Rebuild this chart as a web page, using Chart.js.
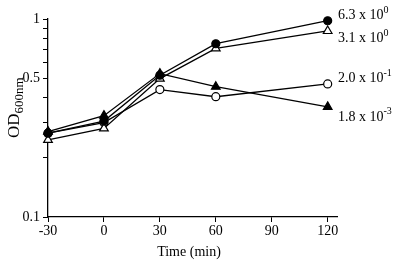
<!DOCTYPE html>
<html>
<head>
<meta charset="utf-8">
<script src="https://cdn.jsdelivr.net/npm/chart.js@4/dist/chart.umd.min.js"></script>
<style>
  html, body { margin: 0; padding: 0; background: #fff; }
  #wrap { width: 400px; height: 268px; }
</style>
</head>
<body>
<div id="wrap"><canvas id="odChart" width="400" height="268"></canvas></div>
<script>
// time points (min)
const times = [-30, 0, 30, 60, 120];

// OD600 values
const filledCircle = [0.265, 0.305, 0.52, 0.75, 0.98];
const openTriangle = [0.245, 0.28, 0.50, 0.71, 0.87];
const openCircle = [0.265, 0.30, 0.44, 0.405, 0.47];
const filledTriangle = [0.27, 0.325, 0.53, 0.455, 0.36];

// end labels: mantissa x 10^exp
const endLabels = [
    { base: '6.3 x 10', exp: '0' },
    { base: '3.1 x 10', exp: '0' },
    { base: '2.0 x 10', exp: '-1' },
    { base: '1.8 x 10', exp: '-3' }
];
const labelShift = [-5, 7, -6, 10];

const yTicks = [0.1, 0.2, 0.3, 0.4, 0.5, 0.6, 0.7, 0.8, 0.9, 1];
const yLabelTicks = [0.1, 0.5, 1];
const xTicks = [-30, 0, 30, 60, 90, 120];

const serif = '"Liberation Serif", "Times New Roman", serif';

function pts(values) {
    return times.map((t, i) => ({ x: t, y: values[i] }));
}

function serie(values, style, fill, radius) {
    return {
        data: pts(values),
        borderColor: '#000',
        borderWidth: 1.3,
        backgroundColor: fill,
        pointStyle: style,
        pointRadius: radius,
        pointBorderColor: '#000',
        pointBorderWidth: 1.2,
        pointBackgroundColor: fill,
        tension: 0,
        clip: false
    };
}

// draws y axis title with subscript and the right-hand labels
const textPlugin = {
    id: 'textPlugin',
    afterDraw(chart) {
        const ctx = chart.ctx;
        ctx.save();
        ctx.fillStyle = '#000';

        // y title
        ctx.translate(19, 138);
        ctx.rotate(-Math.PI / 2);
        ctx.textAlign = 'left';
        ctx.textBaseline = 'alphabetic';
        ctx.font = '17px ' + serif;
        ctx.fillText('OD', 0, 0);
        const w = ctx.measureText('OD').width;
        ctx.font = '13px ' + serif;
        ctx.fillText('600nm', w, 4);
        ctx.setTransform(1, 0, 0, 1, 0, 0);

        // end labels
        ctx.textBaseline = 'middle';
        chart.data.datasets.forEach((ds, i) => {
            const meta = chart.getDatasetMeta(i);
            const last = meta.data[meta.data.length - 1];
            const y = last.y + labelShift[i];
            const x = 338;
            ctx.font = '14px ' + serif;
            ctx.fillText(endLabels[i].base, x, y);
            const bw = ctx.measureText(endLabels[i].base).width;
            ctx.font = '10px ' + serif;
            ctx.fillText(endLabels[i].exp, x + bw, y - 5);
        });

        // x title
        ctx.font = '14px ' + serif;
        ctx.textAlign = 'center';
        ctx.fillText('Time (min)', 189, 252);
        ctx.restore();
    }
};

new Chart(document.getElementById('odChart').getContext('2d'), {
    type: 'line',
    data: {
        datasets: [
            serie(filledCircle, 'circle', '#000', 4),
            serie(openTriangle, 'triangle', '#fff', 5),
            serie(openCircle, 'circle', '#fff', 4),
            serie(filledTriangle, 'triangle', '#000', 5)
        ]
    },
    options: {
        responsive: false,
        animation: false,
        layout: { padding: { top: 19, right: 63, left: 0, bottom: 0 } },
        plugins: {
            legend: { display: false },
            tooltip: { enabled: false }
        },
        scales: {
            x: {
                type: 'linear',
                min: -30,
                max: 125,
                afterFit: s => { s.height = 51; },
                afterBuildTicks: s => { s.ticks = xTicks.map(v => ({ value: v })); },
                ticks: {
                    color: '#000',
                    font: { family: serif, size: 14 },
                    maxRotation: 0,
                    padding: 1
                },
                grid: { display: true, drawOnChartArea: false, drawTicks: true, tickLength: 5, color: '#000', lineWidth: 1 },
                border: { display: true, color: '#000', width: 1.3 }
            },
            y: {
                type: 'logarithmic',
                min: 0.1,
                max: 1,
                afterFit: s => { s.width = 48; },
                afterBuildTicks: s => { s.ticks = yTicks.map(v => ({ value: v })); },
                ticks: {
                    color: '#000',
                    font: { family: serif, size: 14 },
                    padding: 3,
                    autoSkip: false,
                    callback: v => {
                        const hit = yLabelTicks.find(t => Math.abs(t - v) < 1e-6);
                        return hit === undefined ? '' : String(hit);
                    }
                },
                grid: { display: true, drawOnChartArea: false, drawTicks: true, tickLength: 5, color: '#000', lineWidth: 1 },
                border: { display: true, color: '#000', width: 1.3 }
            }
        }
    },
    plugins: [textPlugin]
});
</script>
</body>
</html>
